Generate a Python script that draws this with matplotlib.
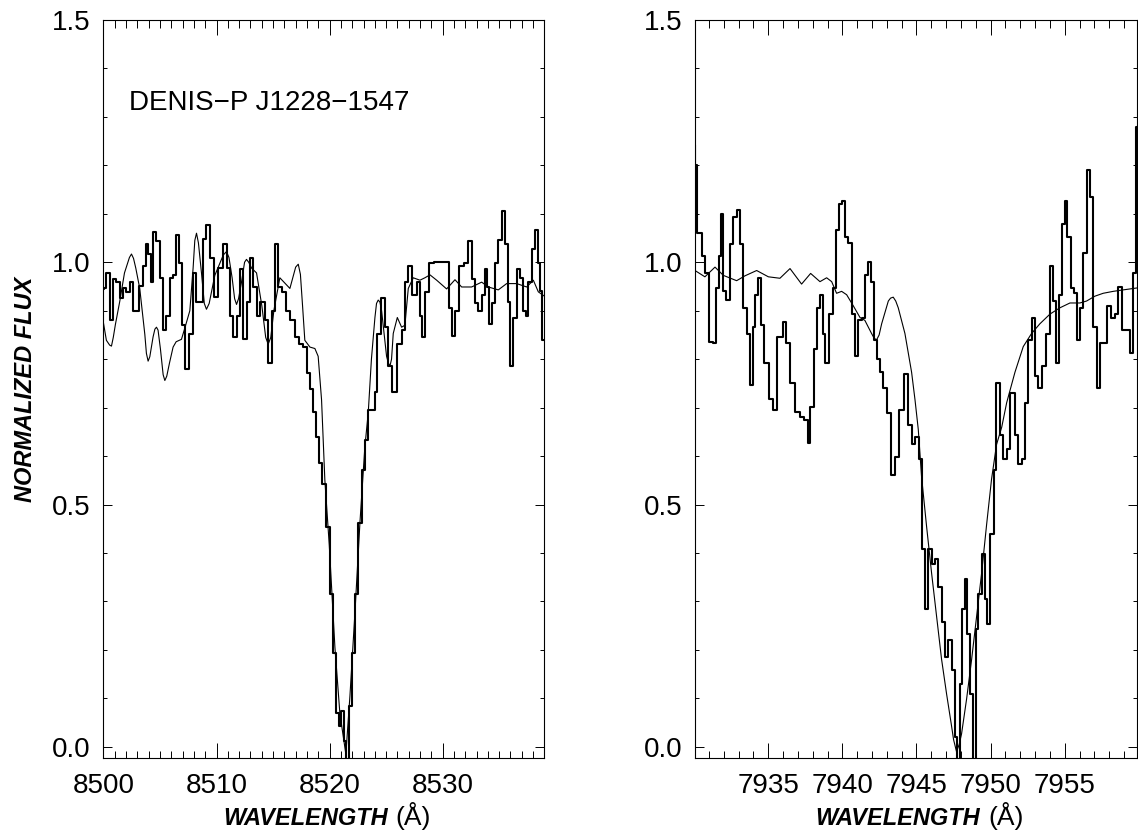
import matplotlib
matplotlib.use('Agg')
import matplotlib.pyplot as plt
from matplotlib.ticker import MultipleLocator, FormatStrFormatter

plt.rcParams['font.family'] = ['Liberation Sans', 'DejaVu Sans']

# left panel: observed spectrum (histogram) and model (thin line)
obsWaveLeft = [8500.00, 8500.12, 8500.41, 8500.68, 8500.97, 8501.30, 8501.56, 8501.86, 8502.18, 8502.48,
               8502.77, 8503.04, 8503.33, 8503.66, 8503.83, 8504.10, 8504.27, 8504.51, 8504.84, 8505.13,
               8505.43, 8505.72, 8505.99, 8506.31, 8506.61, 8506.84, 8507.11, 8507.40, 8507.73, 8508.05,
               8508.38, 8508.67, 8508.97, 8509.23, 8509.56, 8509.91, 8510.35, 8510.74, 8511.03, 8511.33,
               8511.62, 8511.92, 8512.21, 8512.51, 8512.80, 8513.12, 8513.42, 8513.69, 8514.07, 8514.42,
               8514.72, 8515.01, 8515.31, 8515.60, 8515.96, 8516.34, 8516.72, 8517.14, 8517.52, 8517.81,
               8518.11, 8518.40, 8518.70, 8518.91, 8519.14, 8519.44, 8519.88, 8520.17, 8520.47, 8520.68,
               8520.91, 8521.15, 8521.35, 8521.56, 8521.80, 8522.09, 8522.39, 8522.68, 8522.98, 8523.27,
               8523.57, 8523.86, 8524.16, 8524.30, 8524.75, 8525.04, 8525.34, 8525.78, 8526.22, 8526.52,
               8526.81, 8527.11, 8527.55, 8527.84, 8528.14, 8528.29, 8528.58, 8529.03, 8529.40, 8529.76,
               8530.10, 8530.50, 8530.71, 8530.94, 8531.24, 8531.68, 8532.12, 8532.42, 8532.71, 8533.01,
               8533.30, 8533.60, 8533.89, 8534.04, 8534.19, 8534.48, 8534.78, 8535.07, 8535.37, 8535.66,
               8535.81, 8536.10, 8536.40, 8536.69, 8536.99, 8537.28, 8537.43, 8537.73, 8538.02, 8538.32,
               8538.46, 8538.75, 8538.90, 8539.00]
obsFluxLeft = [0.944, 0.946, 0.978, 0.880, 0.966, 0.959, 0.926, 0.946, 0.939, 0.959,
               0.900, 0.900, 0.952, 0.993, 1.037, 1.017, 0.959, 1.063, 1.043, 0.968,
               0.861, 0.890, 0.968, 0.973, 1.057, 0.998, 0.870, 0.779, 0.851, 0.978,
               0.919, 0.919, 1.047, 1.076, 1.008, 0.929, 0.988, 1.037, 0.988, 0.890,
               0.846, 0.890, 0.986, 0.841, 0.919, 1.008, 0.949, 0.890, 0.919, 0.880,
               0.792, 0.900, 1.037, 0.949, 0.939, 0.900, 0.880, 0.846, 0.831, 0.825,
               0.772, 0.738, 0.690, 0.639, 0.585, 0.543, 0.454, 0.316, 0.193, 0.069,
               0.044, 0.074, 0.013, -0.030, 0.084, 0.193, 0.316, 0.461, 0.571, 0.633,
               0.695, 0.696, 0.733, 0.851, 0.926, 0.866, 0.786, 0.733, 0.831, 0.861,
               0.959, 0.993, 0.933, 0.959, 0.890, 0.846, 0.939, 0.998, 1.000, 1.001,
               1.000, 1.001, 0.906, 0.848, 0.900, 0.993, 0.998, 1.043, 0.966, 0.915,
               0.900, 0.933, 0.986, 0.949, 0.872, 0.915, 0.998, 1.046, 1.106, 1.037,
               0.919, 0.786, 0.886, 0.986, 0.968, 0.900, 0.890, 0.959, 1.027, 1.066,
               0.998, 0.940, 0.840, 0.840]

modelWaveLeft = [8500.00, 8500.26, 8500.55, 8500.71, 8500.87, 8501.06, 8501.44, 8501.86, 8502.30, 8502.48,
                 8502.66, 8502.86, 8503.21, 8503.66, 8503.80, 8503.95, 8504.10, 8504.39, 8504.55, 8504.69,
                 8504.83, 8505.04, 8505.28, 8505.43, 8505.60, 8505.84, 8506.16, 8506.43, 8506.90, 8507.22,
                 8507.64, 8507.93, 8508.08, 8508.23, 8508.40, 8508.67, 8508.92, 8509.11, 8509.35, 8509.85,
                 8510.60, 8510.88, 8511.10, 8511.38, 8511.60, 8511.77, 8511.95, 8512.21, 8512.48, 8512.65,
                 8512.85, 8513.10, 8513.54, 8514.01, 8514.35, 8514.57, 8514.80, 8515.07, 8515.60, 8516.49,
                 8517.00, 8517.23, 8517.42, 8517.61, 8517.81, 8518.26, 8518.70, 8518.99, 8519.29, 8519.58,
                 8519.97, 8520.47, 8520.91, 8521.44, 8521.80, 8522.24, 8522.68, 8523.12, 8523.42, 8523.70,
                 8524.01, 8524.15, 8524.30, 8524.45, 8524.60, 8525.04, 8525.20, 8525.34, 8525.48, 8525.63,
                 8525.99, 8526.37, 8526.66, 8526.96, 8527.40, 8527.99, 8528.43, 8528.88, 8529.47, 8530.35,
                 8531.09, 8531.68, 8532.56, 8533.45, 8534.04, 8534.92, 8535.66, 8536.55, 8537.43, 8538.02,
                 8538.46, 8539.00]
modelFluxLeft = [0.875, 0.839, 0.829, 0.827, 0.845, 0.872, 0.919, 0.978, 1.010, 1.017,
                 1.008, 0.988, 0.946, 0.851, 0.812, 0.796, 0.805, 0.846, 0.862, 0.866,
                 0.860, 0.821, 0.768, 0.756, 0.765, 0.792, 0.825, 0.836, 0.841, 0.866,
                 0.900, 0.988, 1.045, 1.060, 1.040, 0.978, 0.915, 0.903, 0.915, 0.973,
                 1.015, 1.022, 1.010, 0.968, 0.925, 0.913, 0.925, 0.959, 1.000, 1.006,
                 1.000, 0.988, 0.978, 0.910, 0.845, 0.831, 0.845, 0.900, 0.968, 0.946,
                 0.990, 0.996, 0.975, 0.910, 0.839, 0.825, 0.822, 0.806, 0.716, 0.551,
                 0.417, 0.206, 0.069, -0.015, 0.105, 0.276, 0.461, 0.619, 0.690, 0.800,
                 0.886, 0.915, 0.922, 0.918, 0.900, 0.806, 0.792, 0.786, 0.800, 0.853,
                 0.886, 0.866, 0.870, 0.946, 0.968, 0.963, 0.968, 0.974, 0.963, 0.945,
                 0.964, 0.949, 0.949, 0.959, 0.949, 0.943, 0.956, 0.956, 0.949, 0.963,
                 0.939, 0.930]

# right panel
obsWaveRight = [7930.06, 7930.13, 7930.22, 7930.40, 7930.62, 7930.85, 7931.12, 7931.39, 7931.59, 7931.79,
                7931.90, 7932.06, 7932.29, 7932.53, 7932.76, 7932.98, 7933.21, 7933.43, 7933.66, 7933.86,
                7934.04, 7934.24, 7934.42, 7934.60, 7934.87, 7935.19, 7935.48, 7935.72, 7935.97, 7936.08,
                7936.29, 7936.62, 7936.96, 7937.30, 7937.59, 7937.75, 7937.95, 7938.20, 7938.42, 7938.60,
                7938.74, 7938.96, 7939.23, 7939.48, 7939.70, 7939.90, 7940.08, 7940.29, 7940.51, 7940.74,
                7940.96, 7941.19, 7941.41, 7941.64, 7941.86, 7942.04, 7942.22, 7942.42, 7942.65, 7942.87,
                7943.10, 7943.43, 7943.70, 7944.00, 7944.27, 7944.56, 7944.78, 7945.05, 7945.28, 7945.46,
                7945.68, 7945.91, 7946.13, 7946.36, 7946.58, 7946.81, 7947.03, 7947.26, 7947.48, 7947.66,
                7947.84, 7947.97, 7948.15, 7948.33, 7948.51, 7948.69, 7948.90, 7949.08, 7949.28, 7949.50,
                7949.68, 7949.86, 7950.11, 7950.29, 7950.49, 7950.72, 7950.96, 7951.19, 7951.48, 7951.75,
                7951.98, 7952.20, 7952.42, 7952.65, 7952.87, 7953.10, 7953.32, 7953.55, 7953.88, 7954.11,
                7954.31, 7954.52, 7954.74, 7954.92, 7955.08, 7955.28, 7955.50, 7955.71, 7955.91, 7956.13,
                7956.36, 7956.58, 7956.81, 7957.03, 7957.26, 7957.48, 7957.71, 7957.98, 7958.27, 7958.49,
                7958.74, 7959.03, 7959.28, 7959.50, 7959.71, 7959.87]
obsFluxRight = [1.240, 1.200, 1.060, 1.060, 1.013, 0.977, 0.835, 0.833, 0.946, 1.013,
                1.100, 0.940, 0.923, 1.037, 1.093, 1.107, 1.037, 0.906, 0.853, 0.746,
                0.866, 0.933, 0.967, 0.870, 0.793, 0.717, 0.696, 0.846, 0.846, 0.876,
                0.833, 0.750, 0.692, 0.681, 0.675, 0.627, 0.702, 0.820, 0.906, 0.933,
                0.853, 0.793, 0.893, 0.946, 1.067, 1.120, 1.127, 1.053, 1.040, 0.893,
                0.806, 0.880, 0.886, 0.973, 1.000, 0.960, 0.840, 0.800, 0.773, 0.740,
                0.689, 0.562, 0.599, 0.696, 0.770, 0.665, 0.624, 0.640, 0.593, 0.408,
                0.284, 0.408, 0.377, 0.387, 0.330, 0.258, 0.186, 0.220, 0.158, 0.020,
                -0.030, 0.130, 0.284, 0.346, 0.233, 0.109, -0.030, 0.243, 0.315, 0.397,
                0.305, 0.253, 0.439, 0.572, 0.750, 0.644, 0.593, 0.614, 0.730, 0.644,
                0.583, 0.593, 0.710, 0.840, 0.886, 0.766, 0.740, 0.786, 0.853, 0.993,
                0.920, 0.793, 0.933, 1.080, 1.127, 1.053, 0.946, 0.936, 0.840, 0.906,
                1.020, 1.190, 1.134, 0.866, 0.740, 0.833, 0.833, 0.910, 0.886, 0.893,
                0.950, 0.860, 0.860, 0.813, 0.977, 1.280]

modelWaveRight = [7930.06, 7930.73, 7931.41, 7931.97, 7932.87, 7933.43, 7934.22, 7935.01, 7935.79, 7936.47,
                  7937.25, 7937.86, 7938.49, 7938.94, 7939.28, 7939.61, 7939.95, 7940.29, 7940.74, 7941.19,
                  7941.52, 7941.97, 7942.15, 7942.31, 7942.48, 7942.65, 7943.10, 7943.25, 7943.43, 7943.60,
                  7943.77, 7944.22, 7944.67, 7944.90, 7945.12, 7945.34, 7945.68, 7946.02, 7946.36, 7946.69,
                  7947.03, 7947.37, 7947.50, 7947.70, 7947.88, 7948.04, 7948.38, 7948.72, 7949.05, 7949.39,
                  7949.73, 7950.06, 7950.40, 7950.75, 7951.08, 7951.64, 7952.20, 7952.76, 7953.32, 7954.00,
                  7954.67, 7955.35, 7956.02, 7956.47, 7957.03, 7957.59, 7958.27, 7958.94, 7959.87]
modelFluxRight = [0.983, 0.970, 0.990, 0.973, 0.962, 0.972, 0.983, 0.970, 0.967, 0.987,
                  0.955, 0.977, 0.960, 0.968, 0.960, 0.936, 0.940, 0.933, 0.910, 0.886,
                  0.880, 0.853, 0.843, 0.840, 0.850, 0.873, 0.920, 0.926, 0.928, 0.920,
                  0.906, 0.853, 0.773, 0.716, 0.655, 0.558, 0.455, 0.358, 0.268, 0.181,
                  0.109, 0.042, 0.015, -0.010, 0.005, 0.027, 0.099, 0.181, 0.268, 0.358,
                  0.459, 0.552, 0.624, 0.660, 0.710, 0.773, 0.826, 0.853, 0.873, 0.893,
                  0.906, 0.916, 0.916, 0.920, 0.930, 0.936, 0.940, 0.943, 0.947]

starName = "DENIS\u2212P J1228\u22121547"
xLabel = "WAVELENGTH"
xUnit = "(\u00c5)"
yLabel = "NORMALIZED FLUX"

fig = plt.figure(figsize=(11.38, 8.36), dpi=100)
axLeft = fig.add_axes([0.0909, 0.0933, 0.3875, 0.8828])
axRight = fig.add_axes([0.6107, 0.0933, 0.3884, 0.8828])

# common axis style (IDL look: inward ticks on all four sides)
def styleAxis(ax, xlim, xmajor):
	ax.set_xlim(xlim)
	ax.set_ylim(-0.023, 1.5)
	ax.xaxis.set_major_locator(MultipleLocator(xmajor))
	ax.xaxis.set_minor_locator(MultipleLocator(1))
	ax.yaxis.set_major_locator(MultipleLocator(0.5))
	ax.yaxis.set_minor_locator(MultipleLocator(0.1))
	ax.xaxis.set_major_formatter(FormatStrFormatter('%d'))
	ax.yaxis.set_major_formatter(FormatStrFormatter('%.1f'))
	ax.tick_params(which='both', direction='in', top=True, right=True, width=0.7, labelsize=20)
	ax.tick_params(axis='x', which='major', length=10.8, pad=10.5)
	ax.tick_params(axis='x', which='minor', length=5.4)
	ax.tick_params(axis='y', which='major', length=6.5, pad=9)
	ax.tick_params(axis='y', which='minor', length=3.2)
	for s in ax.spines.values():
		s.set_linewidth(0.8)
	ax.text(0.645, -0.091, xLabel, transform=ax.transAxes, ha='right', va='baseline',
		fontsize=17, fontweight='bold', fontstyle='italic')
	ax.text(0.663, -0.091, xUnit, transform=ax.transAxes, ha='left', va='baseline', fontsize=19)

styleAxis(axLeft, (8500.0, 8539.0), 10)
styleAxis(axRight, (7930.06, 7959.87), 5)

axLeft.step(obsWaveLeft, obsFluxLeft, where='mid', color='k', lw=1.5)
axLeft.plot(modelWaveLeft, modelFluxLeft, color='k', lw=0.8)
axRight.step(obsWaveRight, obsFluxRight, where='mid', color='k', lw=1.5)
axRight.plot(modelWaveRight, modelFluxRight, color='k', lw=0.8)

axLeft.text(8502.3, 1.329, starName, ha='left', va='center', fontsize=20)
axLeft.text(-0.176, 0.5, yLabel, transform=axLeft.transAxes, rotation=90, ha='center', va='center',
	fontsize=17, fontweight='bold', fontstyle='italic')

fig.savefig('out.png', dpi=100)
